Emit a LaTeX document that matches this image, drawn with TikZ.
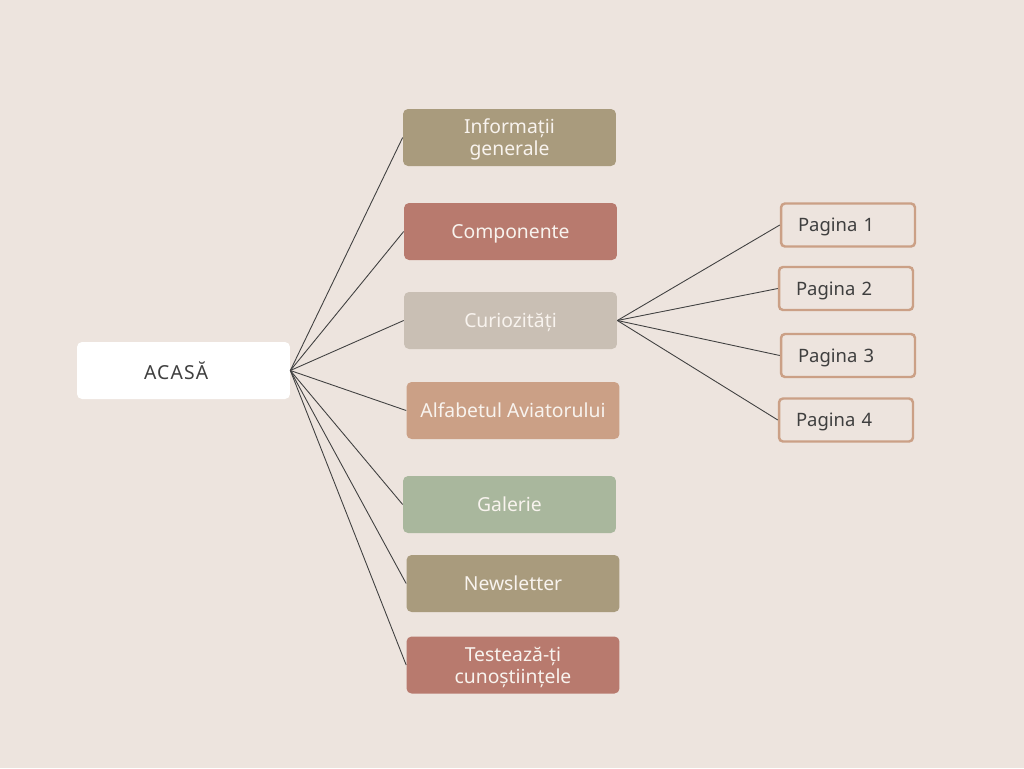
\documentclass[tikz,border=0pt]{standalone}
\usepackage{fontspec}
\setmainfont{Noto Sans}
\usetikzlibrary{calc}

\definecolor{bgc}{HTML}{EDE4DE}
\definecolor{tanc}{HTML}{A99B7D}
\definecolor{rosec}{HTML}{B87A6E}
\definecolor{greigec}{HTML}{C9BFB4}
\definecolor{peachc}{HTML}{CBA086}
\definecolor{sagec}{HTML}{A9B79D}
\definecolor{linec}{HTML}{404040}
\definecolor{darktext}{HTML}{3F3F3F}
\definecolor{lighttext}{HTML}{F8F3EE}

\begin{document}
\begin{tikzpicture}[x=0.02cm,y=-0.02cm,
    menu/.style={rounded corners=0.1cm, minimum width=4.26cm, minimum height=1.14cm,
        text=lighttext, align=center, text depth=0pt, font=\fontsize{11}{12.5}\selectfont},
    homebox/.style={menu, fill=white, text=darktext, text width=1.58cm, inner xsep=1.34cm,
        align=left, font=\fontsize{11}{12.5}\selectfont\addfontfeature{LetterSpace=6}},
    pagebox/.style={draw=peachc, line width=1.4pt, rounded corners=0.08cm,
        minimum height=0.86cm, text width=2cm, inner xsep=0.34cm, align=left,
        text depth=0pt, text=darktext, font=\fontsize{10.5}{12}\selectfont},
    link/.style={draw=linec, line width=0.5pt}]
    \fill[bgc] (0,0) rectangle (1024,768);
    \useasboundingbox (0,0) rectangle (1024,768);

    \node[homebox] (acasa) at (183.5,370.5) {ACASĂ};

    \node[menu, fill=tanc] (info) at (509.5,137.5) {Informații\\generale};
    \node[menu, fill=rosec] (comp) at (510.5,231.5) {Componente};
    \node[menu, fill=greigec] (curio) at (510.5,320.5) {Curiozități};
    \node[menu, fill=peachc] (alfa) at (513,410.5) {Alfabetul Aviatorului};
    \node[menu, fill=sagec] (galerie) at (509.5,504.5) {Galerie};
    \node[menu, fill=tanc] (news) at (513,583.5) {Newsletter};
    \node[menu, fill=rosec] (test) at (513,665) {Testează-ți\\cunoștiințele};

    \node[pagebox] (p1) at (848,225) {Pagina 1};
    \node[pagebox] (p2) at (846,288.5) {Pagina 2};
    \node[pagebox] (p3) at (848,355.5) {Pagina 3};
    \node[pagebox] (p4) at (846,420) {Pagina 4};

    \foreach \n in {info,comp,curio,alfa,galerie,news,test}
        \draw[link] (acasa.east) -- (\n.west);
    \foreach \n in {p1,p2,p3,p4}
        \draw[link] (curio.east) -- (\n.west);
\end{tikzpicture}
\end{document}
